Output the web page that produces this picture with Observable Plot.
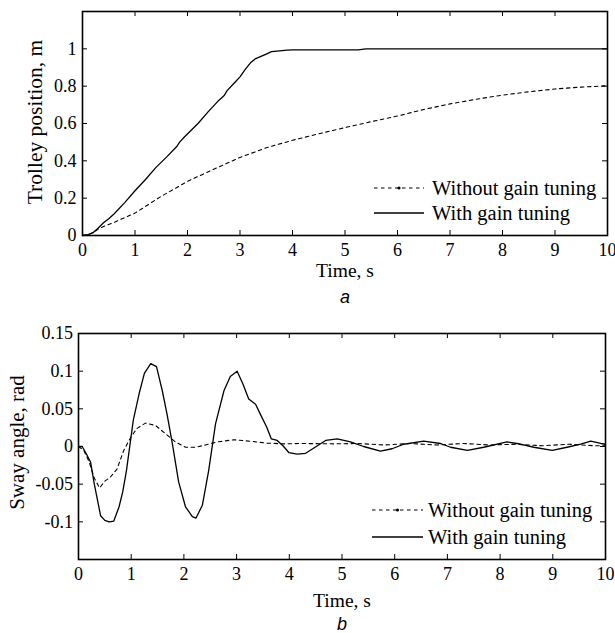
<!DOCTYPE html>
<html>
<head>
<meta charset="utf-8">
<script src="https://cdn.jsdelivr.net/npm/d3@7"></script>
<script src="https://cdn.jsdelivr.net/npm/@observablehq/plot@0.6"></script>
<style>
  html, body { margin: 0; padding: 0; background: #fff; }
  #root { position: relative; width: 615px; height: 633px; overflow: hidden; background: #fff; }
  #root > svg { position: absolute; left: 0; }
</style>
</head>
<body>
<div id="root"></div>
<script>
// ---------- Data ----------
// Panel a: trolley position (m) vs time (s)
const posWithT = [0, 0.1, 0.2, 0.3, 0.4, 0.5, 0.6, 0.8, 1.0, 1.2, 1.4, 1.6, 1.8, 1.85, 1.95, 2.2, 2.4, 2.6, 2.7, 2.75, 2.9, 3.0, 3.1, 3.2, 3.3, 3.4, 3.5, 3.6, 3.7, 3.9, 4.0, 5.25, 5.4, 10];
const posWithV = [0, 0.004, 0.015, 0.04, 0.068, 0.09, 0.115, 0.175, 0.24, 0.3, 0.365, 0.42, 0.478, 0.5, 0.53, 0.6, 0.665, 0.725, 0.75, 0.775, 0.82, 0.85, 0.89, 0.925, 0.948, 0.96, 0.972, 0.985, 0.988, 0.993, 0.994, 0.994, 1.0, 1.0];
const posWithoutT = [0, 0.1, 0.2, 0.3, 0.4, 0.6, 0.8, 1.0, 1.25, 1.5, 1.75, 2.0, 2.5, 3.0, 3.5, 4.0, 4.5, 5.0, 5.5, 6.0, 6.5, 7.0, 7.5, 8.0, 8.5, 9.0, 9.5, 10];
const posWithoutV = [0, 0.004, 0.015, 0.035, 0.048, 0.07, 0.095, 0.12, 0.165, 0.21, 0.25, 0.29, 0.355, 0.418, 0.47, 0.51, 0.545, 0.578, 0.61, 0.64, 0.675, 0.705, 0.73, 0.752, 0.77, 0.785, 0.795, 0.802];

// Panel b: sway angle (rad) vs time (s)
const swayWithT = [0, 0.07, 0.15, 0.23, 0.3, 0.42, 0.5, 0.58, 0.67, 0.77, 0.84, 0.91, 1.04, 1.15, 1.25, 1.37, 1.48, 1.59, 1.68, 1.78, 1.9, 2.03, 2.16, 2.23, 2.35, 2.47, 2.6, 2.76, 2.88, 3.01, 3.12, 3.23, 3.36, 3.45, 3.57, 3.66, 3.77, 3.88, 3.99, 4.15, 4.31, 4.4, 4.69, 4.91, 5.16, 5.41, 5.73, 5.95, 6.17, 6.55, 6.87, 7.06, 7.38, 7.69, 8.13, 8.32, 8.64, 8.99, 9.27, 9.53, 9.72, 9.91, 10];
const swayWithV = [0, 0, -0.01, -0.021, -0.05, -0.092, -0.098, -0.1, -0.099, -0.08, -0.06, -0.032, 0.035, 0.07, 0.097, 0.11, 0.106, 0.074, 0.043, 0.004, -0.047, -0.08, -0.093, -0.095, -0.078, -0.032, 0.03, 0.074, 0.093, 0.1, 0.083, 0.063, 0.056, 0.043, 0.026, 0.01, 0.008, 0.001, -0.008, -0.01, -0.009, -0.005, 0.008, 0.01, 0.006, 0, -0.006, -0.003, 0.003, 0.007, 0.004, -0.001, -0.005, -0.001, 0.006, 0.004, -0.001, -0.005, -0.001, 0.003, 0.007, 0.004, 0.003];
const swayWithoutT = [0, 0.1, 0.2, 0.3, 0.4, 0.5, 0.6, 0.73, 0.86, 0.99, 1.11, 1.27, 1.46, 1.65, 1.84, 2.03, 2.22, 2.41, 2.63, 2.95, 3.26, 3.58, 3.9, 4.2, 4.84, 5.3, 5.8, 6.3, 6.8, 7.3, 7.8, 8.3, 8.8, 9.3, 9.8, 10];
const swayWithoutV = [0, -0.005, -0.02, -0.042, -0.055, -0.046, -0.041, -0.03, -0.005, 0.012, 0.024, 0.031, 0.028, 0.017, 0.006, -0.001, -0.001, 0.002, 0.006, 0.009, 0.007, 0.0045, 0.0035, 0.004, 0.0035, 0.004, 0.002, 0.004, 0.002, 0.004, 0.002, 0.003, 0.001, 0.003, 0.001, 0.001];

// Ticks and labels
const xTicks = [0, 1, 2, 3, 4, 5, 6, 7, 8, 9, 10];
const posTicks = [0, 0.2, 0.4, 0.6, 0.8, 1.0, 1.2];
const posTickLabels = [0, 0.2, 0.4, 0.6, 0.8, 1];
const swayTicks = [-0.15, -0.1, -0.05, 0, 0.05, 0.1, 0.15];
const swayTickLabels = [-0.1, -0.05, 0, 0.05, 0.1, 0.15];
const seriesNames = ["Without gain tuning", "With gain tuning"];
const xLabel = "Time, s";
const posLabel = "Trolley position, m";
const swayLabel = "Sway angle, rad";
const panelLetters = ["a", "b"];

// ---------- Drawing ----------
const serif = "'Liberation Serif','Times New Roman',Times,serif";
const sans = "'Liberation Sans',Arial,Helvetica,sans-serif";
const toRows = (ts, vs) => ts.map((t, i) => ({t, v: vs[i]}));

function panel(cfg) {
  const W = 615;
  const innerW = W - cfg.ml - cfg.mr;
  const innerH = cfg.height - cfg.mt - cfg.mb;
  const tk = 5;
  const svg = Plot.plot({
    width: W, height: cfg.height,
    marginTop: cfg.mt, marginBottom: cfg.mb, marginLeft: cfg.ml, marginRight: cfg.mr,
    style: {fontFamily: serif, fontSize: "18px", color: "black", background: "transparent", overflow: "visible"},
    x: {domain: [0, 10]},
    y: {domain: cfg.yDomain},
    marks: [
      Plot.axisX(xTicks, {tickSize: 0, tickPadding: 8, label: null, tickFormat: d => String(d), fontSize: 18, fill: "black"}),
      Plot.axisY(cfg.yLabels, {tickSize: 0, tickPadding: cfg.yPad, label: null, tickFormat: d => String(d), fontSize: 18, fill: "black"}),
      Plot.tickX(xTicks, {x: d => d, insetTop: innerH - tk, stroke: "black", strokeWidth: 1}),
      Plot.tickX(xTicks, {x: d => d, insetBottom: innerH - tk, stroke: "black", strokeWidth: 1}),
      Plot.tickY(cfg.yTicks, {y: d => d, insetRight: innerW - tk, stroke: "black", strokeWidth: 1}),
      Plot.tickY(cfg.yTicks, {y: d => d, insetLeft: innerW - tk, stroke: "black", strokeWidth: 1}),
      Plot.line(cfg.without, {x: "t", y: "v", stroke: "black", strokeWidth: 1.1, strokeDasharray: "3.5,3.5"}),
      Plot.line(cfg.with, {x: "t", y: "v", stroke: "black", strokeWidth: 1.3}),
      Plot.frame({stroke: "black", strokeWidth: 1.6}),
      Plot.text([cfg.ylabel], {text: d => d, frameAnchor: "left", textAnchor: "middle", rotate: -90, dx: cfg.ylabelDx, dy: cfg.ylabelDy, fontSize: cfg.ylabelSize, lineAnchor: "middle", fill: "black"}),
      Plot.text([xLabel], {text: d => d, frameAnchor: "bottom", textAnchor: "middle", dy: cfg.xLabelDy, fontSize: 19.5, lineAnchor: "middle", fill: "black"}),
      Plot.text([cfg.letter], {text: d => d, frameAnchor: "bottom", textAnchor: "middle", dy: cfg.letterDy, fontSize: 18, fontStyle: "italic", fontFamily: sans, lineAnchor: "middle", fill: "black"})
    ]
  });
  svg.style.top = cfg.top + "px";
  document.getElementById("root").appendChild(svg);
}

panel({
  top: 0, height: 310, mt: 11, mb: 75, ml: 82, mr: 8,
  yDomain: [0, 1.2], yTicks: posTicks, yLabels: posTickLabels, yPad: 6,
  without: toRows(posWithoutT, posWithoutV), with: toRows(posWithT, posWithV),
  ylabel: posLabel, ylabelDx: -47, ylabelDy: -1.5, ylabelSize: 21.5,
  xLabelDy: 35, letter: panelLetters[0], letterDy: 62
});

panel({
  top: 310, height: 323, mt: 23, mb: 74, ml: 78, mr: 10,
  yDomain: [-0.15, 0.15], yTicks: swayTicks, yLabels: swayTickLabels, yPad: 5.5,
  without: toRows(swayWithoutT, swayWithoutV), with: toRows(swayWithT, swayWithV),
  ylabel: swayLabel, ylabelDx: -61, ylabelDy: -4, ylabelSize: 21,
  xLabelDy: 41, letter: panelLetters[1], letterDy: 65
});

// ---------- Legends (overlay) ----------
const overlay = d3.select("#root").append("svg")
  .attr("width", 615).attr("height", 633)
  .style("top", "0px").style("pointer-events", "none");

const legends = [
  {x0: 374, x1: 424, tx: 432, y: [188, 213]},
  {x0: 372, x1: 423, tx: 428, y: [510, 537]}
];
legends.forEach(L => {
  seriesNames.forEach((name, i) => {
    const g = overlay.append("g");
    g.append("line").attr("x1", L.x0).attr("x2", L.x1).attr("y1", L.y[i]).attr("y2", L.y[i])
      .attr("stroke", "black").attr("stroke-width", i === 0 ? 1.1 : 1.3)
      .attr("stroke-dasharray", i === 0 ? "3.5,3.5" : null);
    if (i === 0) g.append("circle").attr("cx", (L.x0 + L.x1) / 2).attr("cy", L.y[i]).attr("r", 1.6).attr("fill", "black");
    g.append("text").attr("x", L.tx).attr("y", L.y[i] + 7)
      .attr("font-family", serif).attr("font-size", 20.5).attr("fill", "black").text(name);
  });
});
</script>
</body>
</html>
